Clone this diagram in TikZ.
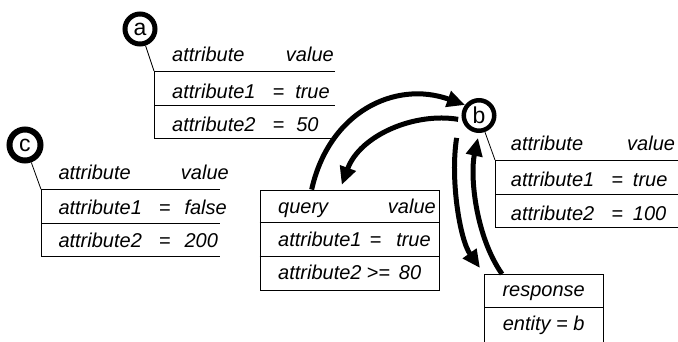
\documentclass[tikz,border=0pt]{standalone}
\usepackage{fontspec}
\setmainfont{Liberation Sans}
\usetikzlibrary{arrows.meta}
\tikzset{
  entity/.style={circle,draw,inner sep=0pt,minimum size=30pt,font=\fontsize{23}{26}\selectfont\upshape},
  celltext/.style={inner sep=0pt,anchor=base west,font=\fontsize{20}{24}\selectfont\itshape},
  grid/.style={line width=0.9pt},
  flow/.style={line width=5pt,-{Triangle[length=18pt,width=16pt]}},
}
\begin{document}
\begin{tikzpicture}[x=1pt,y=-1pt]
            \useasboundingbox (0,0) rectangle (678,341);
            % entities
            \node[entity,line width=5pt] (a) at (140,29) {a};
            \node[entity,line width=4.5pt,minimum size=30.5pt] (b) at (479,115.5) {b};
            \node[entity,line width=6pt,minimum size=31pt] (c) at (25,145) {c};
            % table of a
            \coordinate (ta) at (154,71);
            \draw[grid] (335,71) -- (ta) -- (154,138) -- (335,138);
            \draw[grid] (154,105.5) -- (335,105.5);
            \draw[line width=0.8pt] (a) -- (ta);
            \node[celltext] (ahead) at (172,61) {attribute};
            \node[celltext,anchor=base east] (aval) at (334,61) {value};
            \node[celltext] (arow1) at (172,98) {attribute1\hspace{17pt}=\hspace{11pt}true};
            \node[celltext] (arow2) at (172,131) {attribute2\hspace{17pt}=\hspace{12pt}50};
            % table of c
            \coordinate (tc) at (41,189.3);
            \draw[grid] (220,189.3) -- (tc) -- (41,256.7) -- (220,256.7);
            \draw[grid] (41,223.3) -- (220,223.3);
            \draw[line width=0.8pt] (c) -- (tc);
            \node[celltext] (chead) at (58.3,179.5) {attribute};
            \node[celltext,anchor=base east] (cval) at (229,179.5) {value};
            \node[celltext] (crow1) at (58.3,214.5) {attribute1\hspace{17pt}=\hspace{14pt}false};
            \node[celltext] (crow2) at (58.3,247.5) {attribute2\hspace{17pt}=\hspace{14pt}200};
            % table of b
            \coordinate (tb) at (495,160);
            \draw[grid] (690,160) -- (tb) -- (495,227.7) -- (690,227.7);
            \draw[grid] (495,194) -- (690,194);
            \draw[line width=0.8pt] (b) -- (tb);
            \node[celltext] (bhead) at (510.7,150) {attribute};
            \node[celltext] (bval) at (627,150) {value};
            \node[celltext] (brow1) at (510.7,186) {attribute1\hspace{17pt}=\hspace{10pt}true};
            \node[celltext] (brow2) at (510.7,220) {attribute2\hspace{17pt}=\hspace{10pt}100};
            % query
            \node[draw,grid,minimum width=179.3pt,minimum height=100pt,inner sep=0pt] (query) at (349.65,240) {};
            \draw[grid] ([yshift=-33.3pt]query.north west) -- ([yshift=-33.3pt]query.north east);
            \draw[grid] ([yshift=-67.3pt]query.north west) -- ([yshift=-67.3pt]query.north east);
            \node[celltext] (qhead) at (278,213.5) {query};
            \node[celltext,anchor=base east] (qval) at (436,213.5) {value};
            \node[celltext] (qrow1) at (278,246) {attribute1\hspace{8pt}=\hspace{15pt}true};
            \node[celltext] (qrow2) at (278,279.3) {attribute2\hspace{5pt}>=\hspace{9pt}80};
            % response
            \node[draw,grid,minimum width=119.3pt,minimum height=72pt,inner sep=0pt,anchor=north west] (resp) at (484,274) {};
            \draw[grid] ([yshift=-33.3pt]resp.north west) -- ([yshift=-33.3pt]resp.north east);
            \node[celltext,anchor=base] (rhead) at (543.7,296.5) {response};
            \node[celltext,anchor=base] (rrow) at (543.7,330) {entity = b};
            % messages
            \draw[flow] ([xshift=-38pt]query.north) .. controls (329,112) and (395,80) .. (b.143);
            \draw[flow,shorten <=4pt,shorten >=5pt] (b.195) .. controls (415,112) and (360,135) .. ([xshift=-9.6pt]query.north);
            \draw[flow] ([shift={(-10,10)}]b.south west) .. controls (450,180) and (460,240) .. ([shift={(-4,-6)}]resp.north west);
            \draw[flow,shorten >=5pt] ([xshift=18pt]resp.north west) .. controls (475,235) and (470,175) .. (b.south);
        \end{tikzpicture}
\end{document}
